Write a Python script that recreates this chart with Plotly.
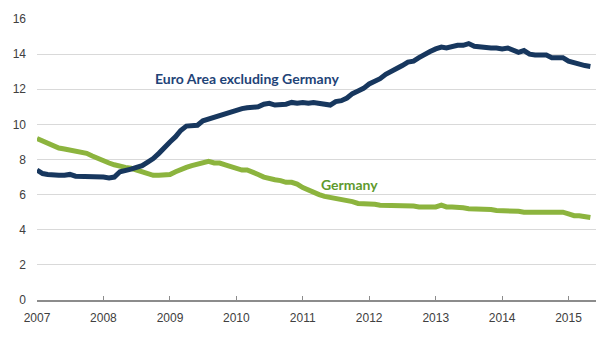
import pandas as pd
import plotly.graph_objects as go

months = pd.date_range("2007-01-01", periods=101, freq="MS")

euro_ex_germany = [
    7.4, 7.2, 7.15, 7.1, 7.1, 7.1, 7.15, 7.05, 7.05, 7.0, 7.0, 7.05,
    7.0, 6.95, 7.0, 7.3, 7.35, 7.45, 7.55, 7.65, 7.85, 8.05, 8.35, 8.7,
    9.0, 9.3, 9.65, 9.9, 9.95, 9.95, 10.2, 10.3, 10.4, 10.55, 10.65, 10.7,
    10.85, 10.9, 10.95, 10.95, 11.0, 11.15, 11.2, 11.1, 11.1, 11.15, 11.25, 11.2,
    11.25, 11.2, 11.25, 11.2, 11.2, 11.1, 11.3, 11.35, 11.5, 11.75, 11.9, 12.05,
    12.3, 12.45, 12.6, 12.85, 13.0, 13.15, 13.35, 13.55, 13.6, 13.8, 14.0, 14.15,
    14.3, 14.4, 14.35, 14.45, 14.5, 14.5, 14.6, 14.45, 14.4, 14.4, 14.35, 14.35,
    14.3, 14.35, 14.25, 14.1, 14.2, 14.0, 13.95, 13.95, 13.95, 13.8, 13.8, 13.8,
    13.6, 13.5, 13.4, 13.35, 13.3,
]

germany = [
    9.2, 9.05, 8.95, 8.8, 8.65, 8.6, 8.55, 8.45, 8.4, 8.35, 8.2, 8.05,
    7.9, 7.8, 7.7, 7.6, 7.55, 7.5, 7.4, 7.3, 7.2, 7.1, 7.1, 7.1,
    7.15, 7.3, 7.45, 7.55, 7.65, 7.75, 7.85, 7.9, 7.8, 7.8, 7.7, 7.6,
    7.5, 7.4, 7.4, 7.3, 7.15, 7.0, 6.9, 6.85, 6.8, 6.7, 6.7, 6.6,
    6.4, 6.25, 6.15, 6.0, 5.9, 5.85, 5.8, 5.7, 5.65, 5.6, 5.5, 5.5,
    5.45, 5.45, 5.4, 5.4, 5.4, 5.4, 5.4, 5.4, 5.35, 5.3, 5.3, 5.3,
    5.3, 5.4, 5.3, 5.3, 5.3, 5.25, 5.2, 5.2, 5.2, 5.2, 5.15, 5.1,
    5.1, 5.1, 5.1, 5.05, 5.0, 5.0, 5.0, 5.0, 5.0, 5.0, 5.0, 5.0,
    4.9, 4.8, 4.8, 4.75, 4.7,
]

y_ticks = [0, 2, 4, 6, 8, 10, 12, 14, 16]

BLUE = "#17375e"
GREEN = "#8cb43e"

fig = go.Figure()
fig.add_trace(go.Scatter(x=months, y=germany, mode="lines",
                         line=dict(color=GREEN, width=5), name="Germany"))
fig.add_trace(go.Scatter(x=months, y=euro_ex_germany, mode="lines",
                         line=dict(color=BLUE, width=5), name="Euro Area excluding Germany"))

fig.add_annotation(x="2010-03-01", y=12.6, text="<b>Euro Area excluding Germany</b>",
                   showarrow=False, font=dict(family="Lato", size=14, color="#1f4478"))
fig.add_annotation(x="2011-09-15", y=6.6, text="<b>Germany</b>",
                   showarrow=False, font=dict(family="Lato", size=14, color="#5f9a2e"))

fig.update_layout(
    width=616, height=346,
    margin=dict(l=37, r=20, t=16, b=46),
    paper_bgcolor="white", plot_bgcolor="white",
    showlegend=False,
    font=dict(family="Liberation Sans, Arial", size=12, color="#404040"),
)
fig.update_xaxes(
    type="date", range=["2007-01-01", "2015-06-01"],
    tick0="2007-01-01", dtick="M12", tickformat="%Y",
    showgrid=False, showline=True, linecolor="#8c8c8c", linewidth=2,
    ticks="inside", ticklen=4, tickcolor="#8c8c8c", tickwidth=1,
    ticklabelstandoff=6, zeroline=False,
)
fig.update_yaxes(
    range=[0, 16], tickvals=y_ticks,
    showgrid=True, gridcolor="#d9d9d9", gridwidth=1,
    showline=False, zeroline=False, ticks="",
    ticklabelstandoff=10,
)

fig.write_html("out.html")
